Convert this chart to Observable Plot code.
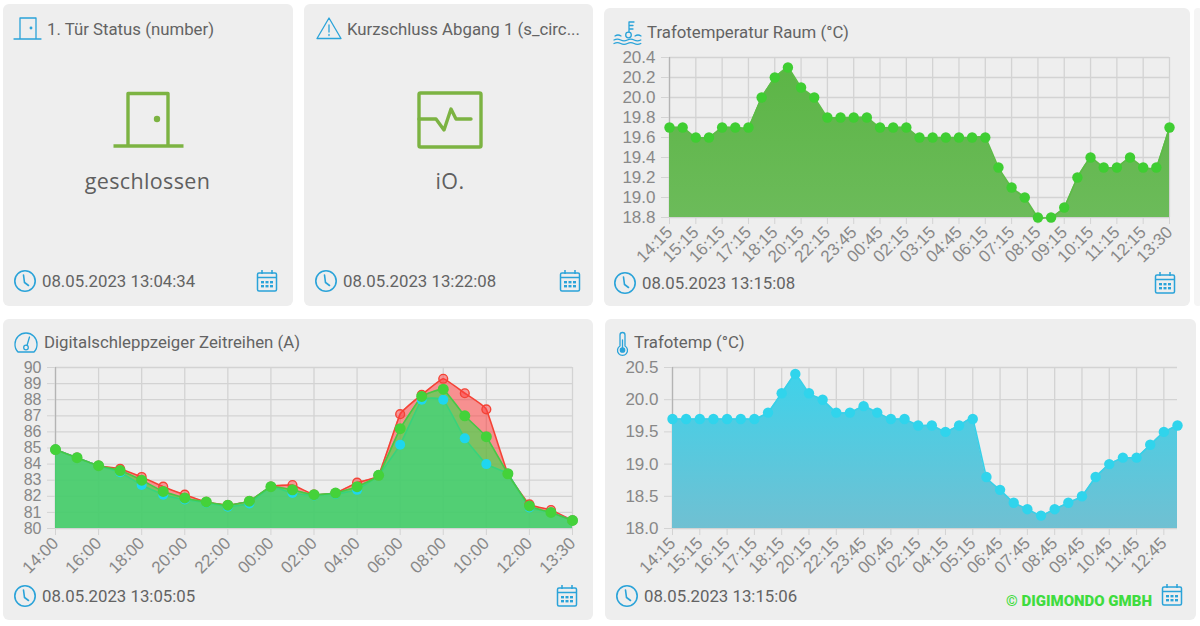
<!DOCTYPE html>
<html><head><meta charset="utf-8">
<script src="https://cdn.jsdelivr.net/npm/d3@7"></script>
<script src="https://cdn.jsdelivr.net/npm/@observablehq/plot@0.6"></script>
<style>
html,body{margin:0;padding:0;background:#fff;width:1200px;height:626px;overflow:hidden;font-family:Roboto,sans-serif}
.card{position:absolute;background:#eeeeee;border-radius:6px}
.t{position:absolute;white-space:nowrap;color:#636363;line-height:1;transform:translateY(-50%)}
.title{font-size:16.8px}
.stamp{font-size:16.8px}
.value{font-family:"Open Sans",sans-serif;font-weight:400;font-size:21.5px;letter-spacing:0.35px;color:#5f5f5f;transform:translate(-50%,-50%)}
svg.icon{position:absolute;overflow:visible;left:0;top:0;fill:none}
.plot{position:absolute}
.plot svg{overflow:visible;background:transparent}
</style></head><body>
<div id="root"></div>
<script>
// ---------- Data ----------
const raumLabels = ["14:15","15:15","16:15","17:15","18:15","20:15","22:15","23:45","00:45","02:15","03:15","04:45","06:15","07:15","08:15","09:15","10:15","11:15","12:15","13:30"];
const raumValues = [19.7,19.7,19.6,19.6,19.7,19.7,19.7,20.0,20.2,20.3,20.1,20.0,19.8,19.8,19.8,19.8,19.7,19.7,19.7,19.6,19.6,19.6,19.6,19.6,19.6,19.3,19.1,19.0,18.8,18.8,18.9,19.2,19.4,19.3,19.3,19.4,19.3,19.3,19.7];
const raumTicks = [18.8,19.0,19.2,19.4,19.6,19.8,20.0,20.2,20.4];

const tempLabels = ["14:15","15:15","16:15","17:15","18:15","20:15","22:15","23:45","00:45","02:15","04:15","05:15","06:45","07:45","08:45","09:45","10:45","11:45","12:45"];
const tempValues = [19.7,19.7,19.7,19.7,19.7,19.7,19.7,19.8,20.1,20.4,20.1,20.0,19.8,19.8,19.9,19.8,19.7,19.7,19.6,19.6,19.5,19.6,19.7,18.8,18.6,18.4,18.3,18.2,18.3,18.4,18.5,18.8,19.0,19.1,19.1,19.3,19.5,19.6];
const tempTicks = [18.0,18.5,19.0,19.5,20.0,20.5];

const ampLabels = ["14:00","16:00","18:00","20:00","22:00","00:00","02:00","04:00","06:00","08:00","10:00","12:00","13:30"];
const ampRed   = [84.9,84.4,83.9,83.7,83.2,82.6,82.1,81.65,81.45,81.7,82.6,82.7,82.1,82.2,82.85,83.3,87.1,88.3,89.3,88.4,87.4,83.4,81.5,81.15,80.5];
const ampGreen = [84.9,84.4,83.9,83.6,83.0,82.3,81.9,81.65,81.45,81.7,82.6,82.4,82.1,82.2,82.6,83.3,86.2,88.2,88.65,87.0,85.7,83.4,81.4,81.0,80.5];
const ampCyan  = [84.9,84.4,83.9,83.5,82.7,82.1,81.8,81.6,81.35,81.55,82.6,82.2,82.05,82.15,82.4,83.3,85.2,88.0,88.0,85.6,84.0,83.4,81.3,81.0,80.5];
const ampTicks = [80,81,82,83,84,85,86,87,88,89,90];

// ---------- Page helpers ----------
const root = document.getElementById("root");
const BLUE = "#2aa3d9", LEAF = "#7cb342";
function card(x,y,w,h,bg){const d=document.createElement("div");d.className="card";d.style.cssText=`left:${x}px;top:${y}px;width:${w}px;height:${h}px`+(bg?`;background:${bg}`:"");root.appendChild(d);}
function text(s,x,y,cls,extra){const d=document.createElement("div");d.className="t "+cls;d.textContent=s;d.style.cssText=`left:${x}px;top:${y}px;`+(extra||"");root.appendChild(d);}
function icon(inner){const d=document.createElementNS("http://www.w3.org/2000/svg","svg");d.setAttribute("class","icon");d.setAttribute("width",1200);d.setAttribute("height",626);d.innerHTML=inner;d.style.zIndex=5;root.appendChild(d);}
const clock=(x,y)=>`<g transform="translate(${x},${y})" stroke="${BLUE}" stroke-width="1.6" stroke-linecap="round"><circle r="10.2"/><path d="M-1.5,-6 L-0.5,1.5 L3.5,4.5"/></g>`;
const cal=(x,y)=>`<g transform="translate(${x},${y})" stroke="${BLUE}" stroke-width="1.5"><rect x="-9.5" y="-8" width="19" height="18" rx="1.5"/><path d="M-9.5,-3.5H9.5M-5,-11V-7M5,-11V-7"/><g stroke="none" fill="${BLUE}"><rect x="-6" y="0" width="3" height="2.4"/><rect x="-1.5" y="0" width="3" height="2.4"/><rect x="3" y="0" width="3" height="2.4"/><rect x="-6" y="4" width="3" height="2.4"/><rect x="-1.5" y="4" width="3" height="2.4"/><rect x="3" y="4" width="3" height="2.4"/></g></g>`;

// ---------- Chart helper ----------
const TICK_FONT = "'Liberation Sans',Arial,sans-serif";
function chart({left,top,w,h,ml,mr,mt,mb,xMax,xTickStep,labels,yTicks,yFmt,yDomain,series,gradient,yFont}){
  const xs = d3.range(0,xMax+1,xTickStep);
  const marks = [];
  if(gradient) marks.push(()=>{
    const defs=d3.create("svg:defs");
    const g=defs.append("linearGradient").attr("id",gradient.id).attr("x1",0).attr("x2",0).attr("y1",0).attr("y2",1);
    g.append("stop").attr("offset","0").attr("stop-color",gradient.top);
    g.append("stop").attr("offset","1").attr("stop-color",gradient.bottom);
    return defs.node();
  });
  marks.push(
    Plot.gridX(xs,{stroke:"#d3d3d3",strokeOpacity:1,strokeWidth:1.3}),
    Plot.gridY(yTicks,{stroke:"#d3d3d3",strokeOpacity:1,strokeWidth:1.3}),
    Plot.ruleX([0],{stroke:"#b4b4b4",strokeWidth:1.3}),
    Plot.axisY({ticks:yTicks,tickFormat:yFmt,tickSize:8,tickPadding:6,stroke:"#d3d3d3",fill:"#888888",label:null,fontSize:yFont}),
    Plot.axisX({ticks:xs,tickFormat:i=>labels[i/xTickStep],tickRotate:-45,tickSize:7,tickPadding:5,stroke:"#d3d3d3",fill:"#888888",label:null,fontSize:17})
  );
  for(const s of series){
    const data=s.values.map((v,i)=>({i,v}));
    marks.push(Plot.areaY(data,{x:"i",y1:yDomain[0],y2:"v",fill:s.fill,fillOpacity:s.fillOpacity??1,curve:"cardinal",tension:0.7}));
    marks.push(Plot.lineY(data,{x:"i",y:"v",stroke:s.line,strokeWidth:1.6,curve:"cardinal",tension:0.7}));
  }
  for(const s of series){
    const data=s.values.map((v,i)=>({i,v}));
    marks.push(Plot.dot(data,{x:"i",y:"v",r:s.r??5.2,fill:s.dot,fillOpacity:s.dotOpacity??1,stroke:s.dotStroke??"none",strokeWidth:1.4}));
  }
  const p=Plot.plot({width:w,height:h,marginLeft:ml,marginRight:mr,marginTop:mt,marginBottom:mb,
    style:{fontFamily:TICK_FONT,background:"transparent",overflow:"visible"},
    x:{type:"linear",domain:[0,xMax],axis:null},
    y:{type:"linear",domain:yDomain,axis:null},
    marks});
  const d=document.createElement("div");d.className="plot";d.style.cssText=`left:${left}px;top:${top}px;width:${w}px;height:${h}px`;
  d.appendChild(p);root.appendChild(d);
}

// ---------- Cards ----------
card(1194,8,8,298,"#f5f5f5");
card(3,4,290,302);
card(304,4,289,302);
card(604,8,586,298);
card(3,319,590,301);
card(605,319,591,301);

// Card 1
text("1. Tür Status (number)",47,28.5,"title");
text("geschlossen",147.5,181,"value");
text("08.05.2023 13:04:34",42,281,"stamp");
// Card 2
text("Kurzschluss Abgang 1 (s_circ...",347,28.5,"title");
text("iO.",450,181,"value");
text("08.05.2023 13:22:08",343,281,"stamp");
// Card 3
text("Trafotemperatur Raum (°C)",647,31.5,"title");
text("08.05.2023 13:15:08",642,283,"stamp");
// Card 4
text("Digitalschleppzeiger Zeitreihen (A)",44,342,"title");
text("08.05.2023 13:05:05",42,595.5,"stamp");
// Card 5
text("Trafotemp (°C)",634,342,"title");
text("08.05.2023 13:15:06",644,595.5,"stamp");
text("© DIGIMONDO GMBH",1006,601,"","font-size:15px;font-weight:900;color:#3fdc3f;z-index:6");

chart({left:604,top:40,w:586,h:240,ml:65,mr:21,mt:17,mb:63,xMax:38,xTickStep:2,labels:raumLabels,yFont:17,
  yTicks:raumTicks,yFmt:d3.format(".1f"),yDomain:[18.8,20.4],
  gradient:{id:"gRaum",top:"#5cb546",bottom:"#6cbb5a"},
  series:[{values:raumValues,fill:"url(#gRaum)",line:"#5cbb46",dot:"#3fcd32"}]});

chart({left:3,top:355,w:590,h:240,ml:52,mr:21,mt:12,mb:67,xMax:24,xTickStep:2,labels:ampLabels,yFont:16,
  yTicks:ampTicks,yFmt:d3.format("d"),yDomain:[80,90],
  series:[
    {values:ampRed,fill:"#ff3232",fillOpacity:0.5,line:"#f44336",dot:"#ff4040",dotOpacity:0.5,dotStroke:"#f44336",r:4.4},
    {values:ampCyan,fill:"#1ed2e6",fillOpacity:0.6,line:"#2ac4d8",dot:"#1fd6ee",r:5},
    {values:ampGreen,fill:"#3fdc4a",fillOpacity:0.65,line:"#46c846",dot:"#44d23a",r:5.5}
  ]});

chart({left:605,top:355,w:591,h:240,ml:67,mr:19,mt:12,mb:67,xMax:37,xTickStep:2,labels:tempLabels,yFont:17,
  yTicks:tempTicks,yFmt:d3.format(".1f"),yDomain:[18,20.5],
  gradient:{id:"gTemp",top:"#3fd2ea",bottom:"#70c0d2"},
  series:[{values:tempValues,fill:"url(#gTemp)",line:"#38d0e8",dot:"#30d4ec"}]});

// ---------- Icons ----------
icon(`
${clock(25,281)}${cal(267,281)}
${clock(326,281)}${cal(570,281)}
${clock(625,283)}${cal(1165,283)}
${clock(25,596)}${cal(567,596)}
${clock(627,596)}${cal(1172,595)}
<g stroke="${BLUE}" stroke-width="1.3" stroke-linecap="round" stroke-linejoin="round">
  <path d="M14,39H41M20,39V18H36V39"/><circle cx="31" cy="28" r="0.8" fill="${BLUE}"/>
  <path d="M329,18 L341,38.5 H317 Z M329,25V32M329,34.5V35.5"/>
  <path d="M629,22V32M629,22H634M629,25.5H633M629,29H633"/><circle cx="628.5" cy="35" r="2.8"/>
  <path d="M615,36 q3,-2 6,0 M635,36 q3,-2 6,0"/>
  <path d="M614,40 q3.4,-1.8 6.7,0 t6.7,0 t6.7,0 t6.7,0 M614,43.5 q3.4,-1.8 6.7,0 t6.7,0 t6.7,0 t6.7,0"/>
  <path d="M19,352 H34 A10.5,10.5 0 0 0 37,344 A11,11 0 0 0 15,344 A10.5,10.5 0 0 0 18,352 Z"/><circle cx="26" cy="347.5" r="2.3"/><path d="M27,345.5L29.5,337"/>
  <path d="M620,335a2.5,2.5 0 0 1 5,0V346a5,5 0 1 1 -5,0Z"/><circle cx="622.5" cy="350" r="2.2" fill="${BLUE}"/><path d="M622.5,340V348"/>
</g>
<g stroke="${LEAF}" stroke-width="3.4" stroke-linejoin="round" stroke-linecap="butt">
  <path d="M128,146V93.5H168V146"/><path d="M113.5,146H183.5"/>
  <circle cx="157" cy="119" r="3.2" fill="${LEAF}" stroke="none"/>
  <rect x="419" y="93" width="62" height="54" rx="1.5"/>
  <path d="M419,119H436L444,130L451,109L456,119H471" stroke-linecap="round"/>
</g>`);
</script>
</body></html>
